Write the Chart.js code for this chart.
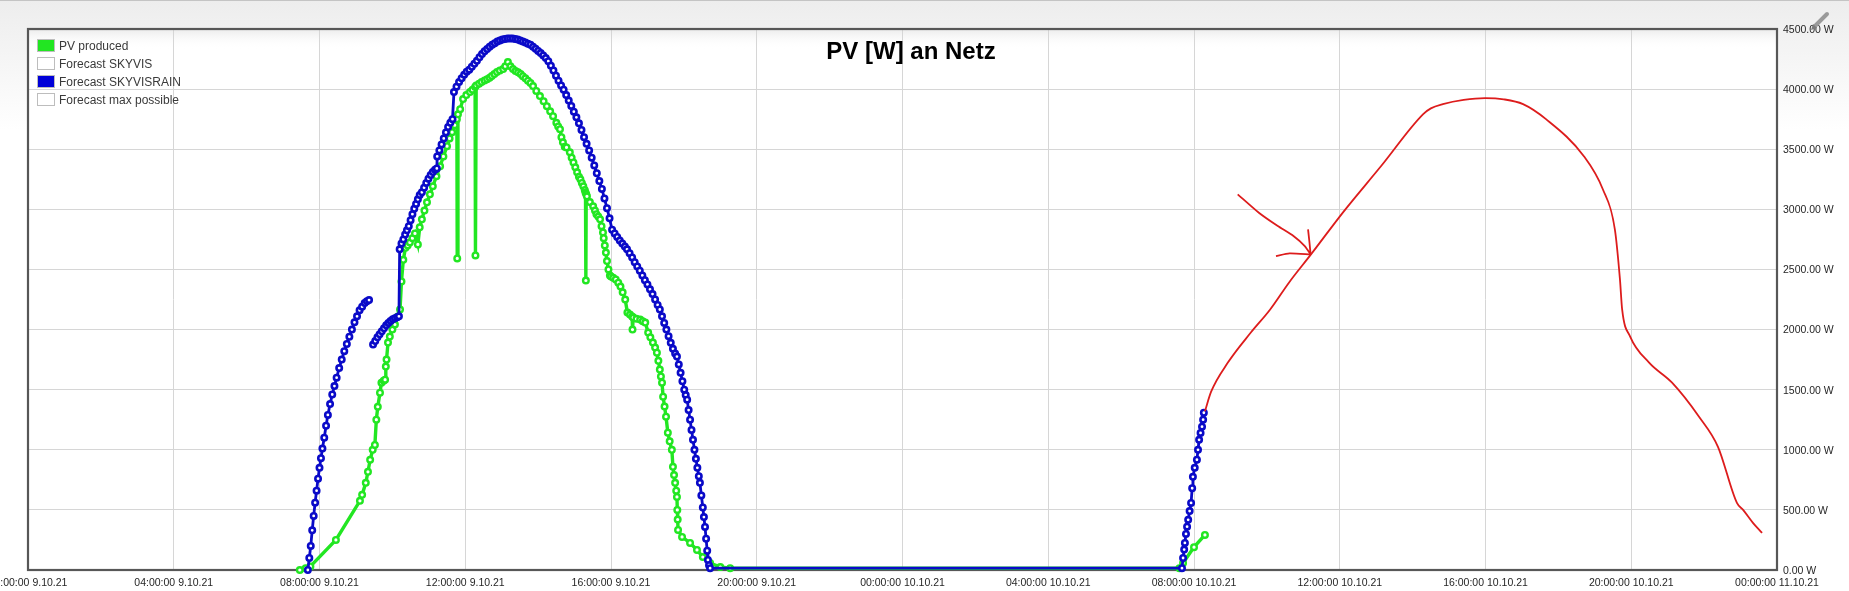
<!DOCTYPE html>
<html>
<head>
<meta charset="utf-8">
<title>PV [W] an Netz</title>
<script src="https://cdn.jsdelivr.net/npm/chart.js@4.4.1/dist/chart.umd.min.js"></script>
<style>
  html, body { margin: 0; padding: 0; background: #fff; }
  #chart { display: block; }
</style>
</head>
<body>
<canvas id="chart" width="1849" height="591"></canvas>
<script>
// x values are hours since 00:00:00 9.10.21
const X_TICK_LABELS = [
  '00:00:00 9.10.21', '04:00:00 9.10.21', '08:00:00 9.10.21', '12:00:00 9.10.21',
  '16:00:00 9.10.21', '20:00:00 9.10.21', '00:00:00 10.10.21', '04:00:00 10.10.21',
  '08:00:00 10.10.21', '12:00:00 10.10.21', '16:00:00 10.10.21', '20:00:00 10.10.21',
  '00:00:00 11.10.21'
];
const Y_TICK_LABELS = [
  '0.00 W', '500.00 W', '1000.00 W', '1500.00 W', '2000.00 W',
  '2500.00 W', '3000.00 W', '3500.00 W', '4000.00 W', '4500.00 W'
];

// PV produced
const PV_T = [
  7.46, 7.62, 7.75, 8.45, 9.11, 9.17, 9.27, 9.33, 9.39, 9.46,
  9.52, 9.56, 9.60, 9.66, 9.70, 9.76, 9.80, 9.82, 9.84, 9.88,
  9.93, 10.00, 10.07, 10.15, 10.21, 10.25, 10.30, 10.36, 10.42, 10.48,
  10.55, 10.62, 10.70, 10.75, 10.81, 10.88, 10.95, 11.03, 11.11, 11.21,
  11.31, 11.40, 11.50, 11.57, 11.64, 11.71, 11.77, 11.78, 11.80, 11.86,
  11.94, 12.03, 12.13, 12.20, 12.27, 12.28, 12.30, 12.38, 12.45, 12.53,
  12.60, 12.67, 12.73, 12.80, 12.87, 12.95, 13.04, 13.10, 13.17, 13.24,
  13.31, 13.38, 13.45, 13.52, 13.58, 13.65, 13.72, 13.79, 13.86, 13.95,
  14.05, 14.15, 14.24, 14.33, 14.41, 14.50, 14.55, 14.60, 14.64, 14.68,
  14.73, 14.78, 14.87, 14.92, 14.97, 15.02, 15.07, 15.12, 15.16, 15.20,
  15.24, 15.28, 15.30, 15.31, 15.32, 15.34, 15.42, 15.51, 15.56, 15.60,
  15.65, 15.70, 15.74, 15.78, 15.80, 15.83, 15.86, 15.89, 15.93, 15.97,
  16.00, 16.06, 16.13, 16.20, 16.26, 16.32, 16.39, 16.45, 16.52, 16.58,
  16.59, 16.61, 16.70, 16.80, 16.87, 16.94, 17.02, 17.08, 17.15, 17.21,
  17.26, 17.30, 17.34, 17.37, 17.40, 17.43, 17.47, 17.51, 17.56, 17.61,
  17.67, 17.70, 17.73, 17.76, 17.79, 17.81, 17.82, 17.83, 17.84, 17.95,
  18.17, 18.36, 18.52, 18.72, 19.00, 19.27, 31.60, 31.70, 32.00, 32.30
];
const PV_W = [
  0, 15, 30, 250, 575, 625, 725, 817, 917, 1000,
  1040, 1250, 1358, 1475, 1558, 1575, 1583, 1692, 1750, 1892,
  1942, 2000, 2042, 2108, 2167, 2400, 2580, 2680, 2700, 2725,
  2760, 2800, 2708, 2850, 2917, 2990, 3058, 3125, 3192, 3275,
  3358, 3440, 3525, 3590, 3642, 3700, 3750, 2592, 3790, 3833,
  3917, 3950, 3975, 3995, 4017, 2617, 4030, 4045, 4060, 4072,
  4083, 4095, 4110, 4125, 4142, 4155, 4167, 4190, 4225, 4190,
  4167, 4150, 4140, 4125, 4108, 4090, 4070, 4050, 4025, 3985,
  3942, 3900, 3858, 3815, 3775, 3720, 3690, 3667, 3600, 3558,
  3520, 3515, 3475, 3430, 3390, 3350, 3308, 3270, 3250, 3220,
  3192, 3160, 3140, 2408, 3125, 3108, 3060, 3025, 2990, 2960,
  2940, 2917, 2860, 2808, 2760, 2700, 2640, 2570, 2500, 2450,
  2442, 2430, 2417, 2390, 2358, 2310, 2250, 2142, 2125, 2108,
  2000, 2100, 2090, 2083, 2070, 2058, 1975, 1935, 1892, 1850,
  1808, 1740, 1667, 1610, 1558, 1442, 1360, 1275, 1142, 1070,
  1000, 858, 790, 725, 660, 608, 500, 420, 333, 275,
  225, 167, 108, 58, 25, 15, 15, 58, 190, 292
];

// Forecast SKYVISRAIN (null = gap)
const SKY_T = [
  7.68, 7.72, 7.76, 7.80, 7.84, 7.88, 7.92, 7.96, 8.00, 8.04,
  8.08, 8.13, 8.18, 8.23, 8.29, 8.35, 8.41, 8.47, 8.54, 8.61,
  8.68, 8.75, 8.82, 8.89, 8.96, 9.03, 9.10, 9.17, 9.24, 9.30,
  9.36, 9.42,
  9.47, 9.53, 9.59, 9.65, 9.71, 9.77, 9.83, 9.89, 9.95, 10.01,
  10.07, 10.13, 10.18, 10.20, 10.25, 10.30, 10.35, 10.40, 10.45, 10.50,
  10.55, 10.60, 10.65, 10.70, 10.75, 10.81, 10.87, 10.93, 10.99, 11.05,
  11.11, 11.17, 11.22, 11.23, 11.29, 11.35, 11.41, 11.47, 11.53, 11.59,
  11.65, 11.69, 11.76, 11.83, 11.90, 11.97, 12.04, 12.11, 12.18, 12.25,
  12.32, 12.39, 12.46, 12.53, 12.60, 12.67, 12.74, 12.81, 12.88, 12.95,
  13.02, 13.09, 13.16, 13.23, 13.30, 13.37, 13.44, 13.51, 13.58, 13.65,
  13.72, 13.79, 13.86, 13.93, 14.00, 14.07, 14.14, 14.21, 14.28, 14.35,
  14.42, 14.49, 14.56, 14.63, 14.70, 14.77, 14.84, 14.91, 14.98, 15.05,
  15.12, 15.19, 15.26, 15.33, 15.40, 15.47, 15.54, 15.61, 15.68, 15.75,
  15.82, 15.89, 15.96, 16.03, 16.10, 16.17, 16.24, 16.31, 16.38, 16.44,
  16.51, 16.58, 16.65, 16.72, 16.79, 16.86, 16.93, 17.00, 17.07, 17.14,
  17.21, 17.28, 17.34, 17.40, 17.46, 17.52, 17.58, 17.64, 17.70, 17.76,
  17.81, 17.86, 17.91, 17.96, 18.01, 18.05, 18.09, 18.13, 18.17, 18.21,
  18.25, 18.29, 18.33, 18.37, 18.41, 18.44, 18.48, 18.52, 18.55, 18.58,
  18.61, 18.64, 18.66, 18.69, 18.72, 31.67, 31.70, 31.73, 31.75, 31.78,
  31.81, 31.84, 31.88, 31.92, 31.95, 31.97, 32.02, 32.08, 32.11, 32.14,
  32.18, 32.22, 32.25, 32.27
];
const SKY_W = [
  0, 100, 200, 330, 450, 560, 660, 760, 850, 930,
  1010, 1100, 1200, 1290, 1380, 1460, 1530, 1600, 1680, 1750,
  1820, 1880, 1940, 2000, 2060, 2110, 2160, 2190, 2220, 2235,
  2245, null,
  1875, 1905, 1935, 1960, 1985, 2010, 2035, 2055, 2072, 2085,
  2095, 2103, 2110, 2667, 2715, 2750, 2790, 2825, 2860, 2910,
  2960, 3005, 3045, 3083, 3120, 3142, 3180, 3220, 3255, 3285,
  3310, 3330, 3340, 3440, 3490, 3540, 3590, 3640, 3685, 3720,
  3750, 3975, 4020, 4060, 4090, 4120, 4145, 4162, 4185, 4210,
  4235, 4265, 4292, 4315, 4333, 4352, 4368, 4382, 4395, 4405,
  4412, 4417, 4420, 4421, 4420, 4416, 4412, 4405, 4396, 4388,
  4378, 4370, 4352, 4335, 4318, 4300, 4280, 4258, 4232, 4195,
  4155, 4112, 4070, 4030, 3995, 3950, 3905, 3860, 3812, 3765,
  3715, 3660, 3600, 3545, 3490, 3430, 3365, 3300, 3235, 3170,
  3090, 3010, 2925, 2830, 2800, 2770, 2740, 2715, 2690, 2667,
  2635, 2600, 2560, 2525, 2490, 2450, 2410, 2375, 2335, 2295,
  2250, 2205, 2167, 2110, 2055, 2000, 1945, 1890, 1840, 1800,
  1775, 1710, 1640, 1570, 1500, 1455, 1417, 1330, 1250, 1165,
  1083, 1000, 925, 850, 780, 725, 620, 520, 440, 358,
  260, 160, 83, 40, 15, 15, 100, 170, 225, 300,
  360, 417, 490, 558, 680, 775, 850, 917, 1000, 1083,
  1140, 1192, 1250, 1308
];

// red hand-drawn continuation and arrow
const RED_T = [
  32.30, 32.47, 32.93, 33.56, 34.09, 34.61, 35.21, 36.09, 37.13, 38.29,
  38.50, 38.83, 39.40, 39.99, 40.50, 41.03, 41.66, 42.70, 43.22, 43.55,
  43.69, 43.75, 43.97, 44.49, 45.12, 45.86, 46.38, 46.90, 47.07, 47.34,
  47.59
];
const RED_W = [
  1320, 1483, 1725, 1975, 2167, 2392, 2625, 2975, 3358, 3792,
  3840, 3875, 3910, 3925, 3915, 3875, 3750, 3442, 3167, 2833,
  2417, 2167, 1942, 1725, 1558, 1275, 1025, 558, 500, 392,
  308
];
const ARROW_T = [33.20, 33.78, 34.30, 34.73, 35.04, 35.20, 35.20, 34.25, 34.62, 35.20, 35.20, 35.13, 35.17, 35.20];
const ARROW_W = [3125, 2972, 2861, 2778, 2694, 2625, null, 2611, 2633, 2625, null, 2833, 2722, 2625];

const GREEN = '#22e622';
const BLUE = '#0a0ac8';
const RED = '#dd1c1c';
const GRID = '#d6d6d6';
const FONT = "'Liberation Sans', Arial, sans-serif";

Chart.defaults.font.family = FONT;

const toPoints = (xs, ys) => xs.map((x, i) => ({ x: x, y: ys[i] }));

const backdrop = {
  id: 'backdrop',
  beforeDraw(chart) {
    const { ctx, chartArea: a, width, height } = chart;
    ctx.save();
    const g = ctx.createLinearGradient(0, 0, 0, 130);
    g.addColorStop(0, '#ededed');
    g.addColorStop(1, '#ffffff');
    ctx.fillStyle = g;
    ctx.fillRect(0, 0, width, height);
    ctx.fillStyle = '#c4c4c4';
    ctx.fillRect(0, 0, width, 1);
    ctx.fillStyle = '#ffffff';
    ctx.fillRect(a.left, a.top, a.right - a.left, a.bottom - a.top);
    const s = ctx.createLinearGradient(0, a.top, 0, a.top + 20);
    s.addColorStop(0, 'rgba(230,230,230,0.8)');
    s.addColorStop(1, 'rgba(255,255,255,0)');
    ctx.fillStyle = s;
    ctx.fillRect(a.left, a.top, a.right - a.left, 20);
    ctx.restore();
  },
  beforeDatasetsDraw(chart) {
    const { ctx, chartArea: a } = chart;
    ctx.save();
    ctx.strokeStyle = '#575757';
    ctx.lineWidth = 2.2;
    ctx.strokeRect(a.left, a.top, a.right - a.left, a.bottom - a.top);
    ctx.restore();
  }
};

const decorations = {
  id: 'decorations',
  afterDraw(chart) {
    const { ctx, chartArea: a, scales: { x, y } } = chart;
    ctx.save();

    // axis labels
    ctx.fillStyle = '#262626';
    ctx.font = '10.5px ' + FONT;
    ctx.textAlign = 'center';
    ctx.textBaseline = 'alphabetic';
    x.ticks.forEach((t, i) => ctx.fillText(X_TICK_LABELS[i], x.getPixelForValue(t.value), a.bottom + 16));
    ctx.textAlign = 'left';
    ctx.textBaseline = 'middle';
    y.ticks.forEach((t, i) => ctx.fillText(Y_TICK_LABELS[i], a.right + 6, y.getPixelForValue(t.value) + 1));

    // title
    ctx.fillStyle = '#000';
    ctx.font = 'bold 24px ' + FONT;
    ctx.textAlign = 'center';
    ctx.textBaseline = 'alphabetic';
    ctx.fillText('PV [W] an Netz', 911, a.top + 30);

    // legend
    ctx.font = '12px ' + FONT;
    ctx.textAlign = 'left';
    let row = 0;
    chart.data.datasets.forEach(ds => {
      if (!ds.label) return;
      const top = a.top + 10 + row * 18;
      ctx.fillStyle = ds.legendFill;
      ctx.fillRect(a.left + 9.5, top, 17, 12);
      ctx.strokeStyle = '#bdbdbd';
      ctx.lineWidth = 1;
      ctx.strokeRect(a.left + 9.5, top + 0.5, 17, 12);
      ctx.fillStyle = '#3a3a3a';
      ctx.fillText(ds.label, a.left + 31, top + 10.5);
      row++;
    });

    // pencil icon
    ctx.strokeStyle = '#9a9a9a';
    ctx.lineWidth = 4;
    ctx.lineCap = 'round';
    ctx.beginPath();
    ctx.moveTo(1815, 26);
    ctx.lineTo(1827, 14);
    ctx.stroke();
    ctx.fillStyle = '#7a7a7a';
    ctx.beginPath();
    ctx.moveTo(1811, 30);
    ctx.lineTo(1813, 24);
    ctx.lineTo(1817, 28);
    ctx.closePath();
    ctx.fill();
    ctx.restore();
  }
};

new Chart(document.getElementById('chart'), {
  type: 'line',
  data: {
    datasets: [
      {
        label: 'PV produced',
        data: toPoints(PV_T, PV_W),
        borderColor: GREEN, borderWidth: 3.4,
        pointRadius: 2.8, pointBorderWidth: 2.4, pointBackgroundColor: '#fff', pointBorderColor: GREEN,
        legendFill: GREEN, order: 3, clip: false
      },
      { label: 'Forecast SKYVIS', data: [], legendFill: '#ffffff', order: 4 },
      {
        label: 'Forecast SKYVISRAIN',
        data: toPoints(SKY_T, SKY_W),
        borderColor: BLUE, borderWidth: 2.8,
        pointRadius: 2.7, pointBorderWidth: 2.6, pointBackgroundColor: '#fff', pointBorderColor: BLUE,
        legendFill: '#0000d8', order: 2, clip: false
      },
      { label: 'Forecast max possible', data: [], legendFill: '#ffffff', order: 5 },
      {
        data: toPoints(RED_T, RED_W),
        borderColor: RED, borderWidth: 1.8, pointRadius: 0,
        cubicInterpolationMode: 'monotone', order: 1, clip: false
      },
      {
        data: toPoints(ARROW_T, ARROW_W),
        borderColor: RED, borderWidth: 1.8, pointRadius: 0,
        tension: 0.2, order: 1, clip: false
      }
    ]
  },
  options: {
    responsive: false,
    animation: false,
    events: [],
    layout: { padding: { left: 28, top: 29, right: 72, bottom: 21 } },
    plugins: {
      legend: { display: false },
      tooltip: { enabled: false },
      title: { display: false }
    },
    scales: {
      x: {
        type: 'linear', min: 0, max: 48,
        ticks: { display: false, stepSize: 4 },
        grid: { color: GRID, drawTicks: false },
        border: { display: false }
      },
      y: {
        position: 'right', min: 0, max: 4500,
        ticks: { display: false, stepSize: 500 },
        grid: { color: GRID, drawTicks: false },
        border: { display: false }
      }
    }
  },
  plugins: [backdrop, decorations]
});
</script>
</body>
</html>
